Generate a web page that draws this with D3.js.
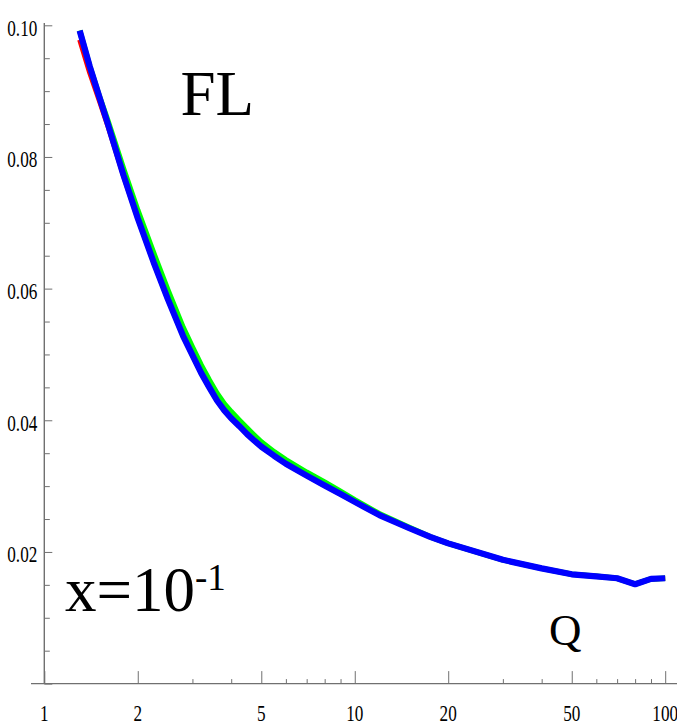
<!DOCTYPE html>
<html>
<head>
<meta charset="utf-8">
<script src="https://cdn.jsdelivr.net/npm/d3@7/dist/d3.min.js"></script>
<style>
  html, body { margin: 0; padding: 0; background: #fff; }
  svg { display: block; }
  text { font-family: "Liberation Serif", "Times New Roman", serif; fill: #000; }
</style>
</head>
<body>
<svg id="chart" width="677" height="727"></svg>
<script>
// Q values (log axis) at which the three curves are sampled
const qValues = [1.3, 1.4, 1.5, 1.6, 1.8, 2, 2.25, 2.5, 2.8, 3, 3.2, 3.4, 3.6, 3.8, 4, 4.25, 4.5, 4.75, 5, 5.5, 6, 7, 8, 9, 10, 12, 15, 17.5, 20, 30, 40, 50, 60, 70, 80, 90, 100];

// FL at x = 10^-1, three determinations
const redSeries   = [0.0978, 0.0928, 0.0887, 0.0848, 0.0771, 0.0707, 0.0640, 0.0584, 0.0528, 0.0499, 0.0472, 0.0450, 0.0430, 0.0415, 0.0403, 0.0391, 0.0379, 0.0369, 0.0360, 0.0346, 0.0334, 0.0316, 0.0301, 0.0288, 0.0276, 0.0256, 0.0236, 0.0223, 0.0213, 0.0188, 0.0175, 0.0166, 0.0163, 0.0160, 0.0151, 0.0159, 0.0160];
const greenSeries = [0.0992, 0.0938, 0.0894, 0.0856, 0.0782, 0.0719, 0.0654, 0.0598, 0.0541, 0.0511, 0.0484, 0.0461, 0.0441, 0.0425, 0.0413, 0.0400, 0.0388, 0.0377, 0.0367, 0.0352, 0.0340, 0.0321, 0.0306, 0.0292, 0.0279, 0.0258, 0.0237, 0.0223, 0.0213, 0.0188, 0.0175, 0.0166, 0.0163, 0.0160, 0.0151, 0.0159, 0.0160];
const blueSeries  = [0.0992, 0.0938, 0.0893, 0.0851, 0.0772, 0.0707, 0.0640, 0.0584, 0.0528, 0.0499, 0.0472, 0.0450, 0.0430, 0.0415, 0.0403, 0.0391, 0.0379, 0.0369, 0.0360, 0.0346, 0.0334, 0.0316, 0.0301, 0.0288, 0.0276, 0.0256, 0.0236, 0.0223, 0.0213, 0.0188, 0.0175, 0.0166, 0.0163, 0.0160, 0.0151, 0.0159, 0.0160];

// Axis ticks
const xMajorTicks = [1, 2, 5, 10, 20, 50, 100];
const xMinorTicks = [3, 4, 6, 7, 8, 9, 30, 40, 60, 70, 80, 90];
const yMajorTicks = [0, 0.02, 0.04, 0.06, 0.08, 0.10];
const yMinorTicks = [0.005, 0.01, 0.015, 0.025, 0.03, 0.035, 0.045, 0.05, 0.055, 0.065, 0.07, 0.075, 0.085, 0.09, 0.095];

const svg = d3.select("#chart");

const x = d3.scaleLog().domain([1, 100]).range([44.3, 665.2]);
const y = d3.scaleLinear().domain([0, 0.1]).range([683.6, 25.3]);

const axisColor = "#707070";

// x axis: ticks point up into the plot
const xAxisMajor = d3.axisBottom(x).tickValues(xMajorTicks).tickSizeInner(-12.5).tickSizeOuter(0).tickFormat("");
const xAxisMinor = d3.axisBottom(x).tickValues(xMinorTicks).tickSizeInner(-4.5).tickSizeOuter(0).tickFormat("");
[xAxisMajor, xAxisMinor].forEach(ax => {
  const g = svg.append("g").attr("transform", `translate(0,${y(0)})`).call(ax);
  g.select(".domain").remove();
  g.selectAll(".tick line").attr("stroke", axisColor).attr("stroke-width", 1);
});

// y axis: ticks point right into the plot
const yAxisMajor = d3.axisLeft(y).tickValues(yMajorTicks).tickSizeInner(-8).tickSizeOuter(0).tickFormat("");
const yAxisMinor = d3.axisLeft(y).tickValues(yMinorTicks).tickSizeInner(-5.5).tickSizeOuter(0).tickFormat("");
[yAxisMajor, yAxisMinor].forEach(ax => {
  const g = svg.append("g").attr("transform", `translate(${x(1)},0)`).call(ax);
  g.select(".domain").remove();
  g.selectAll(".tick line").attr("stroke", axisColor).attr("stroke-width", 1);
});

// axis lines
svg.append("line")
  .attr("x1", 31).attr("x2", 677)
  .attr("y1", y(0)).attr("y2", y(0))
  .attr("stroke", axisColor).attr("stroke-width", 1.4);
svg.append("line")
  .attr("x1", x(1)).attr("x2", x(1))
  .attr("y1", 23).attr("y2", y(0))
  .attr("stroke", axisColor).attr("stroke-width", 1.4);

// tick labels (narrow serif)
const labelSize = 22.6, labelSquash = 0.76;
xMajorTicks.forEach(v => {
  svg.append("g")
    .attr("transform", `translate(${x(v)},721) scale(${labelSquash},1)`)
    .append("text")
    .attr("text-anchor", "middle")
    .attr("font-size", labelSize)
    .text(d3.format("d")(v));
});
yMajorTicks.filter(v => v > 0).forEach(v => {
  svg.append("g")
    .attr("transform", `translate(37.3,${y(v) + 10.3}) scale(${labelSquash},1)`)
    .append("text")
    .attr("text-anchor", "end")
    .attr("font-size", labelSize)
    .text(d3.format(".2f")(v));
});

// curves
const line = d3.line()
  .x(d => x(d[0]))
  .y(d => y(d[1]));

const curves = [
  { values: redSeries,   color: "#ff0000", width: 5 },
  { values: greenSeries, color: "#00ff00", width: 5.5 },
  { values: blueSeries,  color: "#0000ff", width: 6.2 }
];
curves.forEach(c => {
  svg.append("path")
    .datum(qValues.map((q, i) => [q, c.values[i]]))
    .attr("d", line)
    .attr("fill", "none")
    .attr("stroke", c.color)
    .attr("stroke-width", c.width)
    .attr("stroke-linejoin", "round")
    .attr("stroke-linecap", "butt");
});

// annotations
svg.append("text")
  .attr("x", 180.5).attr("y", 115)
  .attr("font-size", 63)
  .text("FL");

const xl = svg.append("text")
  .attr("x", 65).attr("y", 610.7)
  .attr("font-size", 63);
xl.append("tspan").text("x=10");
xl.append("tspan").attr("font-size", 37).attr("dy", -21).text("-1");

svg.append("text")
  .attr("x", 549).attr("y", 645)
  .attr("font-size", 45)
  .text("Q");
</script>
</body>
</html>
